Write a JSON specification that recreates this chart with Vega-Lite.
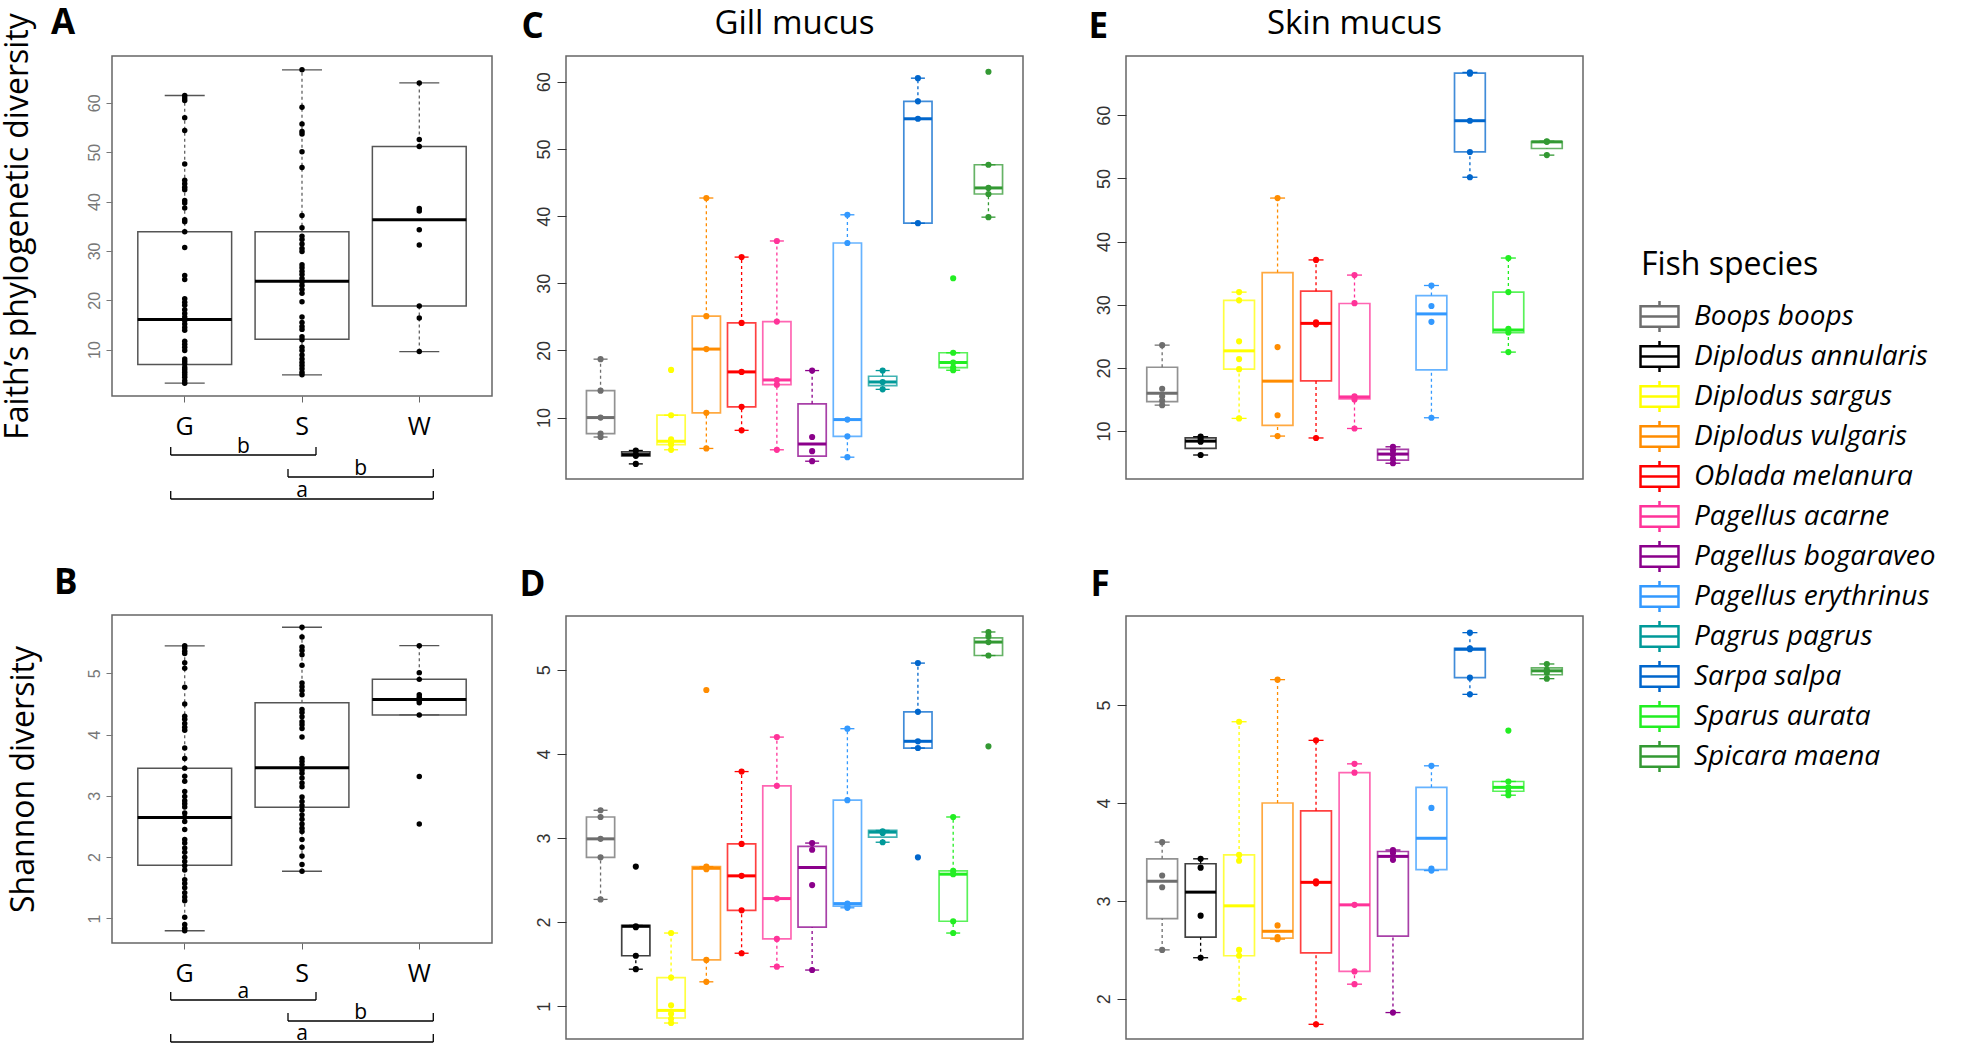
{
"$schema": "https://vega.github.io/schema/vega-lite/v6.json",
"background": "white",
"padding": {"left": 0, "top": 5, "right": 0, "bottom": 0},
"autosize": {"type": "pad"},
"spacing": 25,
"resolve": {"scale": {"x": "independent", "y": "independent", "stroke": "shared", "fill": "shared"}, "legend": {"stroke": "shared"}},
"datasets": {
"boxA": [
{"group":"G","lo":3.2,"q1":7.0,"med":16.1,"q3":33.9,"hi":61.5},
{"group":"S","lo":4.9,"q1":12.1,"med":23.85,"q3":33.9,"hi":66.7},
{"group":"W","lo":9.6,"q1":18.85,"med":36.3,"q3":51.15,"hi":64.05}],
"boxB": [
{"group":"G","lo":0.8,"q1":1.87,"med":2.647,"q3":3.45,"hi":5.446},
{"group":"S","lo":1.77,"q1":2.815,"med":3.46,"q3":4.52,"hi":5.75},
{"group":"W","lo":4.32,"q1":4.32,"med":4.57,"q3":4.9,"hi":5.45}],
"ptsA": [
{"group":"G","v":61.5},{"group":"G","v":61},{"group":"G","v":60.5},{"group":"G","v":57},{"group":"G","v":54.4},{"group":"G","v":47.6},{"group":"G","v":44.3},{"group":"G","v":43.6},{"group":"G","v":42.9},{"group":"G","v":42.4},{"group":"G","v":40.2},{"group":"G","v":39.7},{"group":"G","v":38.7},{"group":"G","v":36.3},{"group":"G","v":35.9},{"group":"G","v":33.9},{"group":"G","v":30.7},{"group":"G","v":25},{"group":"G","v":24.2},{"group":"G","v":20.3},{"group":"G","v":19.6},{"group":"G","v":19},{"group":"G","v":18.1},{"group":"G","v":17.3},{"group":"G","v":16.6},{"group":"G","v":15.9},{"group":"G","v":15.2},{"group":"G","v":14.5},{"group":"G","v":13.9},{"group":"G","v":11.7},{"group":"G","v":11.1},{"group":"G","v":10.5},{"group":"G","v":9.8},{"group":"G","v":8.1},{"group":"G","v":7.6},{"group":"G","v":7.1},{"group":"G","v":6.4},{"group":"G","v":5.9},{"group":"G","v":5.4},{"group":"G","v":4.9},{"group":"G","v":4.4},{"group":"G","v":3.7},{"group":"G","v":3.2},
{"group":"S","v":66.7},{"group":"S","v":59.1},{"group":"S","v":55.7},{"group":"S","v":54.2},{"group":"S","v":53.7},{"group":"S","v":50.1},{"group":"S","v":46.9},{"group":"S","v":37.2},{"group":"S","v":34.7},{"group":"S","v":33},{"group":"S","v":32.3},{"group":"S","v":31.4},{"group":"S","v":30.5},{"group":"S","v":29.9},{"group":"S","v":27.2},{"group":"S","v":26.6},{"group":"S","v":25.9},{"group":"S","v":25.2},{"group":"S","v":24.4},{"group":"S","v":23.7},{"group":"S","v":23},{"group":"S","v":22.2},{"group":"S","v":21.4},{"group":"S","v":19.7},{"group":"S","v":16.6},{"group":"S","v":15.5},{"group":"S","v":14.7},{"group":"S","v":14.1},{"group":"S","v":12.6},{"group":"S","v":12},{"group":"S","v":10.5},{"group":"S","v":9.8},{"group":"S","v":8.9},{"group":"S","v":8.1},{"group":"S","v":7.4},{"group":"S","v":6.8},{"group":"S","v":6.1},{"group":"S","v":5.4},{"group":"S","v":4.9},
{"group":"W","v":64.05},{"group":"W","v":52.6},{"group":"W","v":51.15},{"group":"W","v":38.6},{"group":"W","v":38.1},{"group":"W","v":34.3},{"group":"W","v":31.2},{"group":"W","v":18.85},{"group":"W","v":16.4},{"group":"W","v":9.6}],
"ptsB": [
{"group":"G","v":5.45},{"group":"G","v":5.41},{"group":"G","v":5.36},{"group":"G","v":5.32},{"group":"G","v":5.17},{"group":"G","v":5.08},{"group":"G","v":4.77},{"group":"G","v":4.5},{"group":"G","v":4.3},{"group":"G","v":4.25},{"group":"G","v":4.18},{"group":"G","v":4.12},{"group":"G","v":4.07},{"group":"G","v":3.78},{"group":"G","v":3.61},{"group":"G","v":3.45},{"group":"G","v":3.32},{"group":"G","v":3.24},{"group":"G","v":3.07},{"group":"G","v":2.99},{"group":"G","v":2.92},{"group":"G","v":2.87},{"group":"G","v":2.82},{"group":"G","v":2.72},{"group":"G","v":2.65},{"group":"G","v":2.58},{"group":"G","v":2.45},{"group":"G","v":2.29},{"group":"G","v":2.23},{"group":"G","v":2.15},{"group":"G","v":2.08},{"group":"G","v":2.0},{"group":"G","v":1.93},{"group":"G","v":1.86},{"group":"G","v":1.79},{"group":"G","v":1.63},{"group":"G","v":1.57},{"group":"G","v":1.5},{"group":"G","v":1.42},{"group":"G","v":1.35},{"group":"G","v":1.29},{"group":"G","v":1.02},{"group":"G","v":0.9},{"group":"G","v":0.84},{"group":"G","v":0.8},
{"group":"S","v":5.75},{"group":"S","v":5.59},{"group":"S","v":5.43},{"group":"S","v":5.37},{"group":"S","v":5.3},{"group":"S","v":5.13},{"group":"S","v":4.84},{"group":"S","v":4.78},{"group":"S","v":4.72},{"group":"S","v":4.65},{"group":"S","v":4.41},{"group":"S","v":4.36},{"group":"S","v":4.29},{"group":"S","v":4.21},{"group":"S","v":4.16},{"group":"S","v":4.1},{"group":"S","v":3.96},{"group":"S","v":3.61},{"group":"S","v":3.56},{"group":"S","v":3.51},{"group":"S","v":3.42},{"group":"S","v":3.37},{"group":"S","v":3.29},{"group":"S","v":3.21},{"group":"S","v":3.15},{"group":"S","v":2.98},{"group":"S","v":2.91},{"group":"S","v":2.84},{"group":"S","v":2.77},{"group":"S","v":2.69},{"group":"S","v":2.62},{"group":"S","v":2.54},{"group":"S","v":2.47},{"group":"S","v":2.42},{"group":"S","v":2.29},{"group":"S","v":2.16},{"group":"S","v":2.02},{"group":"S","v":1.88},{"group":"S","v":1.77},
{"group":"W","v":5.45},{"group":"W","v":5.01},{"group":"W","v":4.9},{"group":"W","v":4.65},{"group":"W","v":4.61},{"group":"W","v":4.55},{"group":"W","v":4.52},{"group":"W","v":4.32},{"group":"W","v":3.315},{"group":"W","v":2.54}],
"brA": [
{"from":"G","to":"S","letter":"b","level":1},
{"from":"S","to":"W","letter":"b","level":2},
{"from":"G","to":"W","letter":"a","level":3}],
"brB": [
{"from":"G","to":"S","letter":"a","level":1},
{"from":"S","to":"W","letter":"b","level":2},
{"from":"G","to":"W","letter":"a","level":3}],
"boxC": [
{"species":"Boops boops","lo":7.1,"q1":7.6,"med":10.0,"q3":14.0,"hi":18.7},
{"species":"Diplodus annularis","lo":3.1,"q1":4.28,"med":4.48,"q3":4.88,"hi":5.1},
{"species":"Diplodus sargus","lo":5.2,"q1":5.97,"med":6.47,"q3":10.35,"hi":10.35},
{"species":"Diplodus vulgaris","lo":5.4,"q1":10.7,"med":20.2,"q3":25.1,"hi":42.7},
{"species":"Oblada melanura","lo":8.1,"q1":11.6,"med":16.8,"q3":24.1,"hi":33.9},
{"species":"Pagellus acarne","lo":5.2,"q1":14.9,"med":15.6,"q3":24.3,"hi":36.3},
{"species":"Pagellus bogaraveo","lo":3.5,"q1":4.25,"med":6.05,"q3":12.05,"hi":17.0},
{"species":"Pagellus erythrinus","lo":4.1,"q1":7.2,"med":9.7,"q3":36.0,"hi":40.2},
{"species":"Pagrus pagrus","lo":14.2,"q1":14.75,"med":15.3,"q3":16.15,"hi":17.0},
{"species":"Sarpa salpa","lo":38.95,"q1":38.95,"med":54.5,"q3":57.1,"hi":60.55},
{"species":"Sparus aurata","lo":17.05,"q1":17.45,"med":18.2,"q3":19.65,"hi":19.65},
{"species":"Spicara maena","lo":39.85,"q1":43.3,"med":44.2,"q3":47.65,"hi":47.65}],
"ptsC": [
{"species":"Boops boops","v":18.7},{"species":"Boops boops","v":14.0},{"species":"Boops boops","v":10.0},{"species":"Boops boops","v":7.6},{"species":"Boops boops","v":7.1},
{"species":"Diplodus annularis","v":5.1},{"species":"Diplodus annularis","v":4.5},{"species":"Diplodus annularis","v":4.3},{"species":"Diplodus annularis","v":3.1},
{"species":"Diplodus sargus","v":17.1},{"species":"Diplodus sargus","v":10.35},{"species":"Diplodus sargus","v":6.75},{"species":"Diplodus sargus","v":6.3},{"species":"Diplodus sargus","v":5.97},{"species":"Diplodus sargus","v":5.2},
{"species":"Diplodus vulgaris","v":42.7},{"species":"Diplodus vulgaris","v":25.1},{"species":"Diplodus vulgaris","v":20.2},{"species":"Diplodus vulgaris","v":10.7},{"species":"Diplodus vulgaris","v":5.4},
{"species":"Oblada melanura","v":33.9},{"species":"Oblada melanura","v":24.1},{"species":"Oblada melanura","v":16.8},{"species":"Oblada melanura","v":11.6},{"species":"Oblada melanura","v":8.1},
{"species":"Pagellus acarne","v":36.3},{"species":"Pagellus acarne","v":24.3},{"species":"Pagellus acarne","v":15.6},{"species":"Pagellus acarne","v":14.9},{"species":"Pagellus acarne","v":5.2},
{"species":"Pagellus bogaraveo","v":17.0},{"species":"Pagellus bogaraveo","v":7.1},{"species":"Pagellus bogaraveo","v":5.0},{"species":"Pagellus bogaraveo","v":3.5},
{"species":"Pagellus erythrinus","v":40.2},{"species":"Pagellus erythrinus","v":36.0},{"species":"Pagellus erythrinus","v":9.7},{"species":"Pagellus erythrinus","v":7.2},{"species":"Pagellus erythrinus","v":4.1},
{"species":"Pagrus pagrus","v":17.0},{"species":"Pagrus pagrus","v":15.3},{"species":"Pagrus pagrus","v":14.2},
{"species":"Sarpa salpa","v":60.55},{"species":"Sarpa salpa","v":57.1},{"species":"Sarpa salpa","v":54.5},{"species":"Sarpa salpa","v":38.95},
{"species":"Sparus aurata","v":30.75},{"species":"Sparus aurata","v":19.65},{"species":"Sparus aurata","v":18.2},{"species":"Sparus aurata","v":17.45},{"species":"Sparus aurata","v":17.05},
{"species":"Spicara maena","v":61.5},{"species":"Spicara maena","v":47.65},{"species":"Spicara maena","v":44.2},{"species":"Spicara maena","v":43.3},{"species":"Spicara maena","v":39.85}],
"boxD": [
{"species":"Boops boops","lo":2.27,"q1":2.77,"med":2.99,"q3":3.25,"hi":3.33},
{"species":"Diplodus annularis","lo":1.44,"q1":1.6,"med":1.95,"q3":1.96,"hi":1.96},
{"species":"Diplodus sargus","lo":0.8,"q1":0.86,"med":0.95,"q3":1.34,"hi":1.87},
{"species":"Diplodus vulgaris","lo":1.29,"q1":1.55,"med":2.64,"q3":2.66,"hi":2.66},
{"species":"Oblada melanura","lo":1.63,"q1":2.14,"med":2.55,"q3":2.93,"hi":3.79},
{"species":"Pagellus acarne","lo":1.47,"q1":1.8,"med":2.28,"q3":3.62,"hi":4.2},
{"species":"Pagellus bogaraveo","lo":1.43,"q1":1.94,"med":2.65,"q3":2.9,"hi":2.94},
{"species":"Pagellus erythrinus","lo":2.17,"q1":2.19,"med":2.22,"q3":3.45,"hi":4.3},
{"species":"Pagrus pagrus","lo":2.95,"q1":3.01,"med":3.07,"q3":3.09,"hi":3.09},
{"species":"Sarpa salpa","lo":4.07,"q1":4.07,"med":4.15,"q3":4.5,"hi":5.08},
{"species":"Sparus aurata","lo":1.87,"q1":2.01,"med":2.57,"q3":2.61,"hi":3.25},
{"species":"Spicara maena","lo":5.17,"q1":5.17,"med":5.33,"q3":5.38,"hi":5.45}],
"ptsD": [
{"species":"Boops boops","v":3.33},{"species":"Boops boops","v":3.25},{"species":"Boops boops","v":2.99},{"species":"Boops boops","v":2.77},{"species":"Boops boops","v":2.27},
{"species":"Diplodus annularis","v":2.66},{"species":"Diplodus annularis","v":1.95},{"species":"Diplodus annularis","v":1.94},{"species":"Diplodus annularis","v":1.6},{"species":"Diplodus annularis","v":1.44},
{"species":"Diplodus sargus","v":1.87},{"species":"Diplodus sargus","v":1.34},{"species":"Diplodus sargus","v":1.01},{"species":"Diplodus sargus","v":0.91},{"species":"Diplodus sargus","v":0.85},{"species":"Diplodus sargus","v":0.8},
{"species":"Diplodus vulgaris","v":4.76},{"species":"Diplodus vulgaris","v":2.66},{"species":"Diplodus vulgaris","v":2.63},{"species":"Diplodus vulgaris","v":1.55},{"species":"Diplodus vulgaris","v":1.29},
{"species":"Oblada melanura","v":3.79},{"species":"Oblada melanura","v":2.93},{"species":"Oblada melanura","v":2.55},{"species":"Oblada melanura","v":2.14},{"species":"Oblada melanura","v":1.63},
{"species":"Pagellus acarne","v":4.2},{"species":"Pagellus acarne","v":3.62},{"species":"Pagellus acarne","v":2.28},{"species":"Pagellus acarne","v":1.8},{"species":"Pagellus acarne","v":1.47},
{"species":"Pagellus bogaraveo","v":2.94},{"species":"Pagellus bogaraveo","v":2.86},{"species":"Pagellus bogaraveo","v":2.44},{"species":"Pagellus bogaraveo","v":1.43},
{"species":"Pagellus erythrinus","v":4.3},{"species":"Pagellus erythrinus","v":3.45},{"species":"Pagellus erythrinus","v":2.22},{"species":"Pagellus erythrinus","v":2.19},{"species":"Pagellus erythrinus","v":2.17},
{"species":"Pagrus pagrus","v":3.08},{"species":"Pagrus pagrus","v":3.06},{"species":"Pagrus pagrus","v":2.95},
{"species":"Sarpa salpa","v":5.08},{"species":"Sarpa salpa","v":4.5},{"species":"Sarpa salpa","v":4.15},{"species":"Sarpa salpa","v":4.07},{"species":"Sarpa salpa","v":2.77},
{"species":"Sparus aurata","v":3.25},{"species":"Sparus aurata","v":2.61},{"species":"Sparus aurata","v":2.57},{"species":"Sparus aurata","v":2.01},{"species":"Sparus aurata","v":1.87},
{"species":"Spicara maena","v":5.45},{"species":"Spicara maena","v":5.4},{"species":"Spicara maena","v":5.33},{"species":"Spicara maena","v":5.17},{"species":"Spicara maena","v":4.09}],
"boxE": [
{"species":"Boops boops","lo":14.1,"q1":14.65,"med":16.0,"q3":20.1,"hi":23.6},
{"species":"Diplodus annularis","lo":6.2,"q1":7.25,"med":8.4,"q3":8.9,"hi":9.1},
{"species":"Diplodus sargus","lo":12.0,"q1":19.8,"med":22.7,"q3":30.7,"hi":32.0},
{"species":"Diplodus vulgaris","lo":9.2,"q1":10.9,"med":17.9,"q3":35.1,"hi":46.9},
{"species":"Oblada melanura","lo":8.9,"q1":17.95,"med":27.05,"q3":32.15,"hi":37.1},
{"species":"Pagellus acarne","lo":10.4,"q1":15.1,"med":15.4,"q3":30.2,"hi":34.7},
{"species":"Pagellus bogaraveo","lo":4.9,"q1":5.4,"med":6.35,"q3":7.1,"hi":7.5},
{"species":"Pagellus erythrinus","lo":12.1,"q1":19.7,"med":28.55,"q3":31.45,"hi":33.05},
{"species":"Sarpa salpa","lo":50.2,"q1":54.2,"med":59.15,"q3":66.7,"hi":66.8},
{"species":"Sparus aurata","lo":22.5,"q1":25.6,"med":26.0,"q3":32.0,"hi":37.4},
{"species":"Spicara maena","lo":53.7,"q1":54.75,"med":55.8,"q3":55.85,"hi":55.9}],
"ptsE": [
{"species":"Boops boops","v":23.6},{"species":"Boops boops","v":16.7},{"species":"Boops boops","v":15.5},{"species":"Boops boops","v":14.8},{"species":"Boops boops","v":14.1},
{"species":"Diplodus annularis","v":9.1},{"species":"Diplodus annularis","v":8.7},{"species":"Diplodus annularis","v":8.3},{"species":"Diplodus annularis","v":6.2},
{"species":"Diplodus sargus","v":32.0},{"species":"Diplodus sargus","v":30.7},{"species":"Diplodus sargus","v":24.2},{"species":"Diplodus sargus","v":21.4},{"species":"Diplodus sargus","v":19.8},{"species":"Diplodus sargus","v":12.0},
{"species":"Diplodus vulgaris","v":46.9},{"species":"Diplodus vulgaris","v":23.3},{"species":"Diplodus vulgaris","v":12.5},{"species":"Diplodus vulgaris","v":9.2},
{"species":"Oblada melanura","v":37.1},{"species":"Oblada melanura","v":27.2},{"species":"Oblada melanura","v":26.9},{"species":"Oblada melanura","v":8.9},
{"species":"Pagellus acarne","v":34.7},{"species":"Pagellus acarne","v":30.25},{"species":"Pagellus acarne","v":15.5},{"species":"Pagellus acarne","v":15.0},{"species":"Pagellus acarne","v":10.4},
{"species":"Pagellus bogaraveo","v":7.5},{"species":"Pagellus bogaraveo","v":6.9},{"species":"Pagellus bogaraveo","v":6.3},{"species":"Pagellus bogaraveo","v":5.6},{"species":"Pagellus bogaraveo","v":4.9},
{"species":"Pagellus erythrinus","v":33.05},{"species":"Pagellus erythrinus","v":29.8},{"species":"Pagellus erythrinus","v":27.3},{"species":"Pagellus erythrinus","v":12.1},
{"species":"Sarpa salpa","v":66.8},{"species":"Sarpa salpa","v":66.6},{"species":"Sarpa salpa","v":59.15},{"species":"Sarpa salpa","v":54.2},{"species":"Sarpa salpa","v":50.2},
{"species":"Sparus aurata","v":37.4},{"species":"Sparus aurata","v":32.0},{"species":"Sparus aurata","v":26.2},{"species":"Sparus aurata","v":25.6},{"species":"Sparus aurata","v":22.5},
{"species":"Spicara maena","v":55.9},{"species":"Spicara maena","v":55.8},{"species":"Spicara maena","v":53.7}],
"boxF": [
{"species":"Boops boops","lo":2.5,"q1":2.82,"med":3.2,"q3":3.43,"hi":3.6},
{"species":"Diplodus annularis","lo":2.42,"q1":2.63,"med":3.09,"q3":3.38,"hi":3.43},
{"species":"Diplodus sargus","lo":2.0,"q1":2.44,"med":2.95,"q3":3.47,"hi":4.83},
{"species":"Diplodus vulgaris","lo":2.61,"q1":2.62,"med":2.69,"q3":4.0,"hi":5.26},
{"species":"Oblada melanura","lo":1.74,"q1":2.47,"med":3.19,"q3":3.92,"hi":4.64},
{"species":"Pagellus acarne","lo":2.15,"q1":2.28,"med":2.96,"q3":4.31,"hi":4.4},
{"species":"Pagellus bogaraveo","lo":1.86,"q1":2.64,"med":3.455,"q3":3.505,"hi":3.52},
{"species":"Pagellus erythrinus","lo":3.31,"q1":3.32,"med":3.64,"q3":4.16,"hi":4.38},
{"species":"Sarpa salpa","lo":5.11,"q1":5.28,"med":5.57,"q3":5.58,"hi":5.74},
{"species":"Sparus aurata","lo":4.08,"q1":4.12,"med":4.16,"q3":4.22,"hi":4.22},
{"species":"Spicara maena","lo":5.27,"q1":5.31,"med":5.35,"q3":5.38,"hi":5.42}],
"ptsF": [
{"species":"Boops boops","v":3.6},{"species":"Boops boops","v":3.26},{"species":"Boops boops","v":3.14},{"species":"Boops boops","v":2.5},
{"species":"Diplodus annularis","v":3.43},{"species":"Diplodus annularis","v":3.34},{"species":"Diplodus annularis","v":2.85},{"species":"Diplodus annularis","v":2.42},
{"species":"Diplodus sargus","v":4.83},{"species":"Diplodus sargus","v":3.47},{"species":"Diplodus sargus","v":3.41},{"species":"Diplodus sargus","v":2.5},{"species":"Diplodus sargus","v":2.44},{"species":"Diplodus sargus","v":2.0},
{"species":"Diplodus vulgaris","v":5.26},{"species":"Diplodus vulgaris","v":2.75},{"species":"Diplodus vulgaris","v":2.63},{"species":"Diplodus vulgaris","v":2.61},
{"species":"Oblada melanura","v":4.64},{"species":"Oblada melanura","v":3.2},{"species":"Oblada melanura","v":3.18},{"species":"Oblada melanura","v":1.74},
{"species":"Pagellus acarne","v":4.4},{"species":"Pagellus acarne","v":4.31},{"species":"Pagellus acarne","v":2.96},{"species":"Pagellus acarne","v":2.28},{"species":"Pagellus acarne","v":2.15},
{"species":"Pagellus bogaraveo","v":3.52},{"species":"Pagellus bogaraveo","v":3.49},{"species":"Pagellus bogaraveo","v":3.42},{"species":"Pagellus bogaraveo","v":1.86},
{"species":"Pagellus erythrinus","v":4.38},{"species":"Pagellus erythrinus","v":3.95},{"species":"Pagellus erythrinus","v":3.33},{"species":"Pagellus erythrinus","v":3.31},
{"species":"Sarpa salpa","v":5.74},{"species":"Sarpa salpa","v":5.58},{"species":"Sarpa salpa","v":5.57},{"species":"Sarpa salpa","v":5.28},{"species":"Sarpa salpa","v":5.11},
{"species":"Sparus aurata","v":4.74},{"species":"Sparus aurata","v":4.22},{"species":"Sparus aurata","v":4.16},{"species":"Sparus aurata","v":4.12},{"species":"Sparus aurata","v":4.08},
{"species":"Spicara maena","v":5.42},{"species":"Spicara maena","v":5.36},{"species":"Spicara maena","v":5.33},{"species":"Spicara maena","v":5.27}]
},
"hconcat": [
{
"vconcat": [
{
"width": 380, "height": 340,
"title": {"text": "A", "anchor": "start", "frame": "group", "dx": -61, "offset": -28, "fontSize": 35, "fontWeight": "bold", "font": "Open Sans", "color": "black"},
"layer": [
{
"data": {"name": "boxA"},
"encoding": {"x": {"field": "group", "type": "nominal", "scale": {"domain": ["G","S","W"], "paddingInner": 0.2, "paddingOuter": 0.22}, "axis": {"title": null, "labelAngle": 0, "labelFont": "Open Sans", "labelFontSize": 25, "labelColor": "black", "tickSize": 6, "tickColor": "#666", "labelPadding": 12, "domain": false, "bandPosition": 0.5}}},
"layer": [
{"mark": {"type": "rule", "strokeDash": [3,3], "strokeWidth": 1.2, "color": "#555"}, "encoding": {"y": {"field": "lo", "type": "quantitative", "scale": {"domain": [0.6, 69.5], "nice": false, "zero": false}, "axis": {"values": [10,20,30,40,50,60], "format": "d", "title": "Faith’s phylogenetic diversity", "titleFont": "Open Sans", "titleFontSize": 32, "titleFontWeight": "normal", "titleColor": "black", "titlePadding": 52, "labelAngle": 270, "labelAlign": "center", "labelBaseline": "bottom", "labelFont": "Liberation Sans", "labelFontSize": 16, "labelColor": "#777", "labelPadding": 4, "tickSize": 6, "tickColor": "#777", "domain": false, "grid": false}}, "y2": {"field": "q1"}}},
{"mark": {"type": "rule", "strokeDash": [3,3], "strokeWidth": 1.2, "color": "#555"}, "encoding": {"y": {"field": "q3", "type": "quantitative"}, "y2": {"field": "hi"}}},
{"mark": {"type": "tick", "size": 40, "thickness": 1.3, "color": "#555", "opacity": 1}, "encoding": {"y": {"field": "lo", "type": "quantitative"}}},
{"mark": {"type": "tick", "size": 40, "thickness": 1.3, "color": "#555", "opacity": 1}, "encoding": {"y": {"field": "hi", "type": "quantitative"}}},
{"mark": {"type": "bar", "filled": false, "stroke": "#555", "strokeWidth": 1.5}, "encoding": {"y": {"field": "q1", "type": "quantitative"}, "y2": {"field": "q3"}}},
{"mark": {"type": "tick", "size": 94, "thickness": 3, "color": "black", "opacity": 1}, "encoding": {"y": {"field": "med", "type": "quantitative"}}},
{"data": {"name": "ptsA"}, "mark": {"type": "circle", "size": 30, "color": "black", "opacity": 1}, "encoding": {"y": {"field": "v", "type": "quantitative"}}}
]
},
{
"data": {"name": "brA"},
"encoding": {
"x": {"field": "from", "type": "nominal", "scale": {"domain": ["G","S","W"], "paddingInner": 0.2, "paddingOuter": 0.22}, "axis": {"title": null, "labelAngle": 0, "labelFont": "Open Sans", "labelFontSize": 25, "labelColor": "black", "tickSize": 6, "tickColor": "#666", "labelPadding": 12, "domain": false, "bandPosition": 0.5}},
"y": {"field": "level", "type": "ordinal", "scale": {"type": "point", "domain": [1,2,3], "range": [399, 443], "padding": 0}, "axis": null}
},
"layer": [
{"mark": {"type": "rule", "color": "black", "strokeWidth": 1.3, "xOffset": -14, "x2Offset": 14}, "encoding": {"x2": {"field": "to"}}},
{"mark": {"type": "rule", "color": "black", "strokeWidth": 1.3, "xOffset": -14, "y2Offset": -8}, "encoding": {"y2": {"field": "level"}}},
{"mark": {"type": "rule", "color": "black", "strokeWidth": 1.3, "xOffset": 14, "y2Offset": -8}, "encoding": {"x": {"field": "to", "type": "nominal"}, "y2": {"field": "level"}}},
{"transform": [{"filter": "datum.from !== 'G' || datum.to !== 'W'"}], "mark": {"type": "text", "dx": 58.6, "dy": -2, "baseline": "alphabetic", "font": "Open Sans", "fontSize": 21, "color": "black"}, "encoding": {"text": {"field": "letter"}}},
{"transform": [{"filter": "datum.from === 'G' && datum.to === 'W'"}], "mark": {"type": "text", "dx": 117.3, "dy": -2, "baseline": "alphabetic", "font": "Open Sans", "fontSize": 21, "color": "black"}, "encoding": {"text": {"field": "letter"}}}
]
}
],
"resolve": {"scale": {"y": "independent"}}
},
{
"width": 380, "height": 328,
"title": {"text": "B", "anchor": "start", "frame": "group", "dx": -58, "offset": 14, "fontSize": 35, "fontWeight": "bold", "font": "Open Sans", "color": "black"},
"layer": [
{
"data": {"name": "boxB"},
"encoding": {"x": {"field": "group", "type": "nominal", "scale": {"domain": ["G","S","W"], "paddingInner": 0.2, "paddingOuter": 0.22}, "axis": {"title": null, "labelAngle": 0, "labelFont": "Open Sans", "labelFontSize": 25, "labelColor": "black", "tickSize": 6, "tickColor": "#666", "labelPadding": 12, "domain": false, "bandPosition": 0.5}}},
"layer": [
{"mark": {"type": "rule", "strokeDash": [3,3], "strokeWidth": 1.2, "color": "#555"}, "encoding": {"y": {"field": "lo", "type": "quantitative", "scale": {"domain": [0.6, 5.95], "nice": false, "zero": false}, "axis": {"values": [1,2,3,4,5], "format": "d", "title": "Shannon diversity", "titleFont": "Open Sans", "titleFontSize": 32, "titleFontWeight": "normal", "titleColor": "black", "titlePadding": 46, "labelAngle": 270, "labelAlign": "center", "labelBaseline": "bottom", "labelFont": "Liberation Sans", "labelFontSize": 16, "labelColor": "#777", "labelPadding": 4, "tickSize": 6, "tickColor": "#777", "domain": false, "grid": false}}, "y2": {"field": "q1"}}},
{"mark": {"type": "rule", "strokeDash": [3,3], "strokeWidth": 1.2, "color": "#555"}, "encoding": {"y": {"field": "q3", "type": "quantitative"}, "y2": {"field": "hi"}}},
{"mark": {"type": "tick", "size": 40, "thickness": 1.3, "color": "#555", "opacity": 1}, "encoding": {"y": {"field": "lo", "type": "quantitative"}}},
{"mark": {"type": "tick", "size": 40, "thickness": 1.3, "color": "#555", "opacity": 1}, "encoding": {"y": {"field": "hi", "type": "quantitative"}}},
{"mark": {"type": "bar", "filled": false, "stroke": "#555", "strokeWidth": 1.5}, "encoding": {"y": {"field": "q1", "type": "quantitative"}, "y2": {"field": "q3"}}},
{"mark": {"type": "tick", "size": 94, "thickness": 3, "color": "black", "opacity": 1}, "encoding": {"y": {"field": "med", "type": "quantitative"}}},
{"data": {"name": "ptsB"}, "mark": {"type": "circle", "size": 30, "color": "black", "opacity": 1}, "encoding": {"y": {"field": "v", "type": "quantitative"}}}
]
},
{
"data": {"name": "brB"},
"encoding": {
"x": {"field": "from", "type": "nominal", "scale": {"domain": ["G","S","W"], "paddingInner": 0.2, "paddingOuter": 0.22}, "axis": {"title": null, "labelAngle": 0, "labelFont": "Open Sans", "labelFontSize": 25, "labelColor": "black", "tickSize": 6, "tickColor": "#666", "labelPadding": 12, "domain": false, "bandPosition": 0.5}},
"y": {"field": "level", "type": "ordinal", "scale": {"type": "point", "domain": [1,2,3], "range": [385, 427], "padding": 0}, "axis": null}
},
"layer": [
{"mark": {"type": "rule", "color": "black", "strokeWidth": 1.3, "xOffset": -14, "x2Offset": 14}, "encoding": {"x2": {"field": "to"}}},
{"mark": {"type": "rule", "color": "black", "strokeWidth": 1.3, "xOffset": -14, "y2Offset": -8}, "encoding": {"y2": {"field": "level"}}},
{"mark": {"type": "rule", "color": "black", "strokeWidth": 1.3, "xOffset": 14, "y2Offset": -8}, "encoding": {"x": {"field": "to", "type": "nominal"}, "y2": {"field": "level"}}},
{"transform": [{"filter": "datum.from !== 'G' || datum.to !== 'W'"}], "mark": {"type": "text", "dx": 58.6, "dy": -2, "baseline": "alphabetic", "font": "Open Sans", "fontSize": 21, "color": "black"}, "encoding": {"text": {"field": "letter"}}},
{"transform": [{"filter": "datum.from === 'G' && datum.to === 'W'"}], "mark": {"type": "text", "dx": 117.3, "dy": -2, "baseline": "alphabetic", "font": "Open Sans", "fontSize": 21, "color": "black"}, "encoding": {"text": {"field": "letter"}}}
]
}
],
"resolve": {"scale": {"y": "independent"}}
}
],
"spacing": 63,
"resolve": {"scale": {"x": "independent", "y": "independent"}}
},
{
"hconcat": [
{
"vconcat": [
{
"width": 457, "height": 423,
"title": {"text": "Gill mucus", "anchor": "middle", "frame": "group", "offset": -32, "fontSize": 33, "fontWeight": "normal", "font": "Open Sans", "color": "black"},
"data": {"name": "boxC"},
"encoding": {
"x": {"field": "species", "type": "nominal", "scale": {"domain": ["Boops boops","Diplodus annularis","Diplodus sargus","Diplodus vulgaris","Oblada melanura","Pagellus acarne","Pagellus bogaraveo","Pagellus erythrinus","Pagrus pagrus","Sarpa salpa","Sparus aurata","Spicara maena"], "paddingInner": 0.2, "paddingOuter": 0.58}, "axis": null}
},
"layer": [
{"mark": {"type": "rule", "strokeDash": [3,3], "strokeWidth": 1.3}, "encoding": {"y": {"field": "lo", "type": "quantitative", "scale": {"domain": [0.85, 63.85], "nice": false, "zero": false}, "axis": {"values": [10,20,30,40,50,60], "format": "d", "title": "C", "titleAngle": 0, "titleX": -45, "titleY": -19, "titleAlign": "left", "titleBaseline": "alphabetic", "titleFont": "Open Sans", "titleFontSize": 35, "titleFontWeight": "bold", "titleColor": "black", "labelAngle": 270, "labelAlign": "center", "labelBaseline": "bottom", "labelFont": "Liberation Sans", "labelFontSize": 18, "labelColor": "#333", "labelPadding": 4, "tickSize": 9, "tickColor": "#333", "domain": false, "grid": false}}, "y2": {"field": "q1"},
"stroke": {"field": "species", "type": "nominal", "scale": {"domain": ["Boops boops","Diplodus annularis","Diplodus sargus","Diplodus vulgaris","Oblada melanura","Pagellus acarne","Pagellus bogaraveo","Pagellus erythrinus","Pagrus pagrus","Sarpa salpa","Sparus aurata","Spicara maena"], "range": ["#6e6e6e","#000000","#ffff00","#ff8c00","#ff0000","#ff3399","#8b008b","#3399ff","#009999","#0066cc","#22ee22","#339933"]}, "legend": {"title": "Fish species", "orient": "none", "legendX": 1529, "legendY": 194, "symbolType": "M-1.1,-0.6H1.1V0.6H-1.1Z M-1.1,0H1.1 M0,-0.6V-0.9 M0,0.6V0.9", "symbolFillColor": "transparent", "symbolStrokeWidth": 2.5, "symbolSize": 1190, "rowPadding": -12, "encode": {"symbols": {"update": {"fillOpacity": {"value": 0}, "strokeWidth": {"value": 2.5}}}}}}}},
{"mark": {"type": "rule", "strokeDash": [3,3], "strokeWidth": 1.3}, "encoding": {"y": {"field": "q3", "type": "quantitative"}, "y2": {"field": "hi"}, "stroke": {"field": "species", "type": "nominal"}}},
{"mark": {"type": "tick", "size": 14, "thickness": 1.3, "opacity": 1}, "encoding": {"y": {"field": "lo", "type": "quantitative"}, "fill": {"field": "species", "type": "nominal", "scale": {"domain": ["Boops boops","Diplodus annularis","Diplodus sargus","Diplodus vulgaris","Oblada melanura","Pagellus acarne","Pagellus bogaraveo","Pagellus erythrinus","Pagrus pagrus","Sarpa salpa","Sparus aurata","Spicara maena"], "range": ["#6e6e6e","#000000","#ffff00","#ff8c00","#ff0000","#ff3399","#8b008b","#3399ff","#009999","#0066cc","#22ee22","#339933"]}, "legend": null}}},
{"mark": {"type": "tick", "size": 14, "thickness": 1.3, "opacity": 1}, "encoding": {"y": {"field": "hi", "type": "quantitative"}, "fill": {"field": "species", "type": "nominal", "legend": null}}},
{"mark": {"type": "bar", "filled": false, "strokeWidth": 1.7, "strokeOpacity": 0.75}, "encoding": {"y": {"field": "q1", "type": "quantitative"}, "y2": {"field": "q3"}, "stroke": {"field": "species", "type": "nominal"}}},
{"mark": {"type": "tick", "size": 28, "thickness": 3, "opacity": 1}, "encoding": {"y": {"field": "med", "type": "quantitative"}, "fill": {"field": "species", "type": "nominal", "legend": null}}},
{"data": {"name": "ptsC"}, "mark": {"type": "circle", "size": 38, "opacity": 1}, "encoding": {"y": {"field": "v", "type": "quantitative"}, "fill": {"field": "species", "type": "nominal", "legend": null}}}
]
},
{
"width": 457, "height": 423,
"data": {"name": "boxD"},
"encoding": {
"x": {"field": "species", "type": "nominal", "scale": {"domain": ["Boops boops","Diplodus annularis","Diplodus sargus","Diplodus vulgaris","Oblada melanura","Pagellus acarne","Pagellus bogaraveo","Pagellus erythrinus","Pagrus pagrus","Sarpa salpa","Sparus aurata","Spicara maena"], "paddingInner": 0.2, "paddingOuter": 0.58}, "axis": null}
},
"layer": [
{"mark": {"type": "rule", "strokeDash": [3,3], "strokeWidth": 1.3}, "encoding": {"y": {"field": "lo", "type": "quantitative", "scale": {"domain": [0.61, 5.64], "nice": false, "zero": false}, "axis": {"values": [1,2,3,4,5], "format": "d", "title": "D", "titleAngle": 0, "titleX": -47, "titleY": -21, "titleAlign": "left", "titleBaseline": "alphabetic", "titleFont": "Open Sans", "titleFontSize": 35, "titleFontWeight": "bold", "titleColor": "black", "labelAngle": 270, "labelAlign": "center", "labelBaseline": "bottom", "labelFont": "Liberation Sans", "labelFontSize": 18, "labelColor": "#333", "labelPadding": 4, "tickSize": 9, "tickColor": "#333", "domain": false, "grid": false}}, "y2": {"field": "q1"},
"stroke": {"field": "species", "type": "nominal", "scale": {"domain": ["Boops boops","Diplodus annularis","Diplodus sargus","Diplodus vulgaris","Oblada melanura","Pagellus acarne","Pagellus bogaraveo","Pagellus erythrinus","Pagrus pagrus","Sarpa salpa","Sparus aurata","Spicara maena"], "range": ["#6e6e6e","#000000","#ffff00","#ff8c00","#ff0000","#ff3399","#8b008b","#3399ff","#009999","#0066cc","#22ee22","#339933"]}, "legend": {"title": "Fish species", "orient": "none", "legendX": 1529, "legendY": 194, "symbolType": "M-1.1,-0.6H1.1V0.6H-1.1Z M-1.1,0H1.1 M0,-0.6V-0.9 M0,0.6V0.9", "symbolFillColor": "transparent", "symbolStrokeWidth": 2.5, "symbolSize": 1190, "rowPadding": -12, "encode": {"symbols": {"update": {"fillOpacity": {"value": 0}, "strokeWidth": {"value": 2.5}}}}}}}},
{"mark": {"type": "rule", "strokeDash": [3,3], "strokeWidth": 1.3}, "encoding": {"y": {"field": "q3", "type": "quantitative"}, "y2": {"field": "hi"}, "stroke": {"field": "species", "type": "nominal"}}},
{"mark": {"type": "tick", "size": 14, "thickness": 1.3, "opacity": 1}, "encoding": {"y": {"field": "lo", "type": "quantitative"}, "fill": {"field": "species", "type": "nominal", "scale": {"domain": ["Boops boops","Diplodus annularis","Diplodus sargus","Diplodus vulgaris","Oblada melanura","Pagellus acarne","Pagellus bogaraveo","Pagellus erythrinus","Pagrus pagrus","Sarpa salpa","Sparus aurata","Spicara maena"], "range": ["#6e6e6e","#000000","#ffff00","#ff8c00","#ff0000","#ff3399","#8b008b","#3399ff","#009999","#0066cc","#22ee22","#339933"]}, "legend": null}}},
{"mark": {"type": "tick", "size": 14, "thickness": 1.3, "opacity": 1}, "encoding": {"y": {"field": "hi", "type": "quantitative"}, "fill": {"field": "species", "type": "nominal", "legend": null}}},
{"mark": {"type": "bar", "filled": false, "strokeWidth": 1.7, "strokeOpacity": 0.75}, "encoding": {"y": {"field": "q1", "type": "quantitative"}, "y2": {"field": "q3"}, "stroke": {"field": "species", "type": "nominal"}}},
{"mark": {"type": "tick", "size": 28, "thickness": 3, "opacity": 1}, "encoding": {"y": {"field": "med", "type": "quantitative"}, "fill": {"field": "species", "type": "nominal", "legend": null}}},
{"data": {"name": "ptsD"}, "mark": {"type": "circle", "size": 38, "opacity": 1}, "encoding": {"y": {"field": "v", "type": "quantitative"}, "fill": {"field": "species", "type": "nominal", "legend": null}}}
]
}
],
"spacing": 86,
"resolve": {"scale": {"x": "independent", "y": "independent", "stroke": "shared", "fill": "shared"}, "legend": {"stroke": "shared"}}
},
{
"vconcat": [
{
"width": 457, "height": 423,
"title": {"text": "Skin mucus", "anchor": "middle", "frame": "group", "offset": -32, "fontSize": 33, "fontWeight": "normal", "font": "Open Sans", "color": "black"},
"data": {"name": "boxE"},
"encoding": {
"x": {"field": "species", "type": "nominal", "scale": {"domain": ["Boops boops","Diplodus annularis","Diplodus sargus","Diplodus vulgaris","Oblada melanura","Pagellus acarne","Pagellus bogaraveo","Pagellus erythrinus","Sarpa salpa","Sparus aurata","Spicara maena"], "paddingInner": 0.2, "paddingOuter": 0.54}, "axis": null}
},
"layer": [
{"mark": {"type": "rule", "strokeDash": [3,3], "strokeWidth": 1.3}, "encoding": {"y": {"field": "lo", "type": "quantitative", "scale": {"domain": [2.4, 69.4], "nice": false, "zero": false}, "axis": {"values": [10,20,30,40,50,60], "format": "d", "title": "E", "titleAngle": 0, "titleX": -38, "titleY": -19, "titleAlign": "left", "titleBaseline": "alphabetic", "titleFont": "Open Sans", "titleFontSize": 35, "titleFontWeight": "bold", "titleColor": "black", "labelAngle": 270, "labelAlign": "center", "labelBaseline": "bottom", "labelFont": "Liberation Sans", "labelFontSize": 18, "labelColor": "#333", "labelPadding": 4, "tickSize": 9, "tickColor": "#333", "domain": false, "grid": false}}, "y2": {"field": "q1"},
"stroke": {"field": "species", "type": "nominal", "scale": {"domain": ["Boops boops","Diplodus annularis","Diplodus sargus","Diplodus vulgaris","Oblada melanura","Pagellus acarne","Pagellus bogaraveo","Pagellus erythrinus","Pagrus pagrus","Sarpa salpa","Sparus aurata","Spicara maena"], "range": ["#6e6e6e","#000000","#ffff00","#ff8c00","#ff0000","#ff3399","#8b008b","#3399ff","#009999","#0066cc","#22ee22","#339933"]}, "legend": {"title": "Fish species", "orient": "none", "legendX": 1529, "legendY": 194, "symbolType": "M-1.1,-0.6H1.1V0.6H-1.1Z M-1.1,0H1.1 M0,-0.6V-0.9 M0,0.6V0.9", "symbolFillColor": "transparent", "symbolStrokeWidth": 2.5, "symbolSize": 1190, "rowPadding": -12, "encode": {"symbols": {"update": {"fillOpacity": {"value": 0}, "strokeWidth": {"value": 2.5}}}}}}}},
{"mark": {"type": "rule", "strokeDash": [3,3], "strokeWidth": 1.3}, "encoding": {"y": {"field": "q3", "type": "quantitative"}, "y2": {"field": "hi"}, "stroke": {"field": "species", "type": "nominal"}}},
{"mark": {"type": "tick", "size": 15, "thickness": 1.3, "opacity": 1}, "encoding": {"y": {"field": "lo", "type": "quantitative"}, "fill": {"field": "species", "type": "nominal", "scale": {"domain": ["Boops boops","Diplodus annularis","Diplodus sargus","Diplodus vulgaris","Oblada melanura","Pagellus acarne","Pagellus bogaraveo","Pagellus erythrinus","Pagrus pagrus","Sarpa salpa","Sparus aurata","Spicara maena"], "range": ["#6e6e6e","#000000","#ffff00","#ff8c00","#ff0000","#ff3399","#8b008b","#3399ff","#009999","#0066cc","#22ee22","#339933"]}, "legend": null}}},
{"mark": {"type": "tick", "size": 15, "thickness": 1.3, "opacity": 1}, "encoding": {"y": {"field": "hi", "type": "quantitative"}, "fill": {"field": "species", "type": "nominal", "legend": null}}},
{"mark": {"type": "bar", "filled": false, "strokeWidth": 1.7, "strokeOpacity": 0.75}, "encoding": {"y": {"field": "q1", "type": "quantitative"}, "y2": {"field": "q3"}, "stroke": {"field": "species", "type": "nominal"}}},
{"mark": {"type": "tick", "size": 31, "thickness": 3, "opacity": 1}, "encoding": {"y": {"field": "med", "type": "quantitative"}, "fill": {"field": "species", "type": "nominal", "legend": null}}},
{"data": {"name": "ptsE"}, "mark": {"type": "circle", "size": 38, "opacity": 1}, "encoding": {"y": {"field": "v", "type": "quantitative"}, "fill": {"field": "species", "type": "nominal", "legend": null}}}
]
},
{
"width": 457, "height": 423,
"data": {"name": "boxF"},
"encoding": {
"x": {"field": "species", "type": "nominal", "scale": {"domain": ["Boops boops","Diplodus annularis","Diplodus sargus","Diplodus vulgaris","Oblada melanura","Pagellus acarne","Pagellus bogaraveo","Pagellus erythrinus","Sarpa salpa","Sparus aurata","Spicara maena"], "paddingInner": 0.2, "paddingOuter": 0.54}, "axis": null}
},
"layer": [
{"mark": {"type": "rule", "strokeDash": [3,3], "strokeWidth": 1.3}, "encoding": {"y": {"field": "lo", "type": "quantitative", "scale": {"domain": [1.59, 5.91], "nice": false, "zero": false}, "axis": {"values": [2,3,4,5], "format": "d", "title": "F", "titleAngle": 0, "titleX": -36, "titleY": -21, "titleAlign": "left", "titleBaseline": "alphabetic", "titleFont": "Open Sans", "titleFontSize": 35, "titleFontWeight": "bold", "titleColor": "black", "labelAngle": 270, "labelAlign": "center", "labelBaseline": "bottom", "labelFont": "Liberation Sans", "labelFontSize": 18, "labelColor": "#333", "labelPadding": 4, "tickSize": 9, "tickColor": "#333", "domain": false, "grid": false}}, "y2": {"field": "q1"},
"stroke": {"field": "species", "type": "nominal", "scale": {"domain": ["Boops boops","Diplodus annularis","Diplodus sargus","Diplodus vulgaris","Oblada melanura","Pagellus acarne","Pagellus bogaraveo","Pagellus erythrinus","Pagrus pagrus","Sarpa salpa","Sparus aurata","Spicara maena"], "range": ["#6e6e6e","#000000","#ffff00","#ff8c00","#ff0000","#ff3399","#8b008b","#3399ff","#009999","#0066cc","#22ee22","#339933"]}, "legend": {"title": "Fish species", "orient": "none", "legendX": 1529, "legendY": 194, "symbolType": "M-1.1,-0.6H1.1V0.6H-1.1Z M-1.1,0H1.1 M0,-0.6V-0.9 M0,0.6V0.9", "symbolFillColor": "transparent", "symbolStrokeWidth": 2.5, "symbolSize": 1190, "rowPadding": -12, "encode": {"symbols": {"update": {"fillOpacity": {"value": 0}, "strokeWidth": {"value": 2.5}}}}}}}},
{"mark": {"type": "rule", "strokeDash": [3,3], "strokeWidth": 1.3}, "encoding": {"y": {"field": "q3", "type": "quantitative"}, "y2": {"field": "hi"}, "stroke": {"field": "species", "type": "nominal"}}},
{"mark": {"type": "tick", "size": 15, "thickness": 1.3, "opacity": 1}, "encoding": {"y": {"field": "lo", "type": "quantitative"}, "fill": {"field": "species", "type": "nominal", "scale": {"domain": ["Boops boops","Diplodus annularis","Diplodus sargus","Diplodus vulgaris","Oblada melanura","Pagellus acarne","Pagellus bogaraveo","Pagellus erythrinus","Pagrus pagrus","Sarpa salpa","Sparus aurata","Spicara maena"], "range": ["#6e6e6e","#000000","#ffff00","#ff8c00","#ff0000","#ff3399","#8b008b","#3399ff","#009999","#0066cc","#22ee22","#339933"]}, "legend": null}}},
{"mark": {"type": "tick", "size": 15, "thickness": 1.3, "opacity": 1}, "encoding": {"y": {"field": "hi", "type": "quantitative"}, "fill": {"field": "species", "type": "nominal", "legend": null}}},
{"mark": {"type": "bar", "filled": false, "strokeWidth": 1.7, "strokeOpacity": 0.75}, "encoding": {"y": {"field": "q1", "type": "quantitative"}, "y2": {"field": "q3"}, "stroke": {"field": "species", "type": "nominal"}}},
{"mark": {"type": "tick", "size": 31, "thickness": 3, "opacity": 1}, "encoding": {"y": {"field": "med", "type": "quantitative"}, "fill": {"field": "species", "type": "nominal", "legend": null}}},
{"data": {"name": "ptsF"}, "mark": {"type": "circle", "size": 38, "opacity": 1}, "encoding": {"y": {"field": "v", "type": "quantitative"}, "fill": {"field": "species", "type": "nominal", "legend": null}}}
]
}
],
"spacing": 86,
"resolve": {"scale": {"x": "independent", "y": "independent", "stroke": "shared", "fill": "shared"}, "legend": {"stroke": "shared"}}
}
],
"spacing": 63,
"resolve": {"scale": {"x": "independent", "y": "independent", "stroke": "shared", "fill": "shared"}, "legend": {"stroke": "shared"}}
}
],
"config": {
"font": "Open Sans",
"view": {"stroke": "#666", "strokeWidth": 1.5},
"legend": {"titleFont": "Open Sans", "titleFontSize": 32, "titleFontWeight": "normal", "titleColor": "black", "titlePadding": 16, "labelFont": "Open Sans", "labelFontSize": 28, "labelFontStyle": "italic", "labelColor": "black", "labelOffset": 16, "labelLimit": 400, "symbolFillColor": "transparent", "symbolOpacity": 1}
}
}
